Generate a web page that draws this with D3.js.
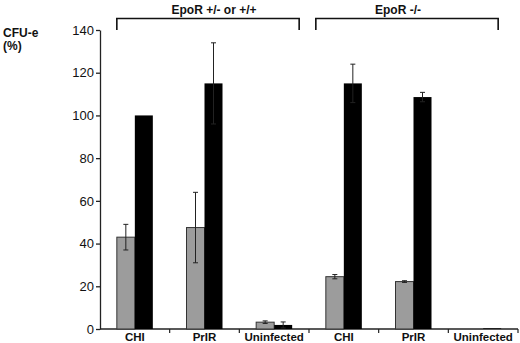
<!DOCTYPE html>
<html>
<head>
<meta charset="utf-8">
<script src="https://cdn.jsdelivr.net/npm/d3@7"></script>
<style>
  body { margin: 0; background: #fff; }
  svg { display: block; font-family: Arial, "Liberation Sans", Helvetica, sans-serif; }
</style>
</head>
<body>
<div id="chart"></div>
<script>
(function () {
  // data
  const categories = ["CHI", "PrIR", "Uninfected", "CHI ", "PrIR ", "Uninfected "];
  const categoryLabels = ["CHI", "PrIR", "Uninfected", "CHI", "PrIR", "Uninfected"];
  const grayValues = [43, 47.5, 3.2, 24.5, 22.2, 0];
  const grayErr = [6, 16.5, 0.6, 1, 0.4, 0];
  const blackValues = [100, 115, 1.9, 115, 108.6, 0.3];
  const blackErr = [0, 19, 1.4, 9, 2.2, 0];
  const yTicks = [0, 20, 40, 60, 80, 100, 120, 140];
  const groups = [
    { label: "EpoR +/- or +/+", from: 0, to: 2 },
    { label: "EpoR -/-", from: 3, to: 5 }
  ];

  const width = 520, height = 343;
  const margin = { top: 30, right: 2, bottom: 14, left: 100 };
  const innerW = width - margin.left - margin.right;
  const innerH = height - margin.top - margin.bottom;

  const svg = d3.select("#chart").append("svg")
    .attr("width", width)
    .attr("height", height);

  const plot = svg.append("g")
    .attr("transform", `translate(${margin.left},${margin.top})`);

  const x = d3.scaleBand()
    .domain(categories)
    .range([0, innerW])
    .paddingInner(0)
    .paddingOuter(0);

  const y = d3.scaleLinear()
    .domain([0, 140])
    .range([innerH, 0]);

  const barW = 18;

  // Y axis
  const yAxis = plot.append("g")
    .call(d3.axisLeft(y).tickValues(yTicks).tickSize(4).tickSizeOuter(0).tickPadding(2));
  yAxis.select(".domain").attr("stroke", "#222").attr("stroke-width", 1.3);
  yAxis.selectAll(".tick line").attr("stroke", "#222").attr("stroke-width", 1.3);
  yAxis.selectAll("text")
    .attr("fill", "#111")
    .style("font-size", "13px");

  // X axis
  const xAxisG = plot.append("g")
    .attr("transform", `translate(0,${innerH})`);
  xAxisG.append("line")
    .attr("x1", 0).attr("x2", innerW)
    .attr("stroke", "#222").attr("stroke-width", 1.3);
  xAxisG.selectAll(".xtick")
    .data(categories)
    .join("line")
    .attr("class", "xtick")
    .attr("x1", d => x(d) + x.bandwidth())
    .attr("x2", d => x(d) + x.bandwidth())
    .attr("y1", 0).attr("y2", 4)
    .attr("stroke", "#222").attr("stroke-width", 1.2);
  xAxisG.selectAll(".xlabel")
    .data(categories)
    .join("text")
    .attr("class", "xlabel")
    .attr("x", d => x(d) + x.bandwidth() / 2)
    .attr("y", 11.5)
    .attr("text-anchor", "middle")
    .style("font-size", "11.5px")
    .style("font-weight", "700")
    .attr("fill", "#111")
    .text((d, i) => categoryLabels[i]);

  // Bars
  const center = d => x(d) + x.bandwidth() / 2;

  plot.selectAll(".gray")
    .data(categories)
    .join("rect")
    .attr("class", "gray")
    .attr("x", d => center(d) - barW)
    .attr("y", (d, i) => y(grayValues[i]))
    .attr("width", barW)
    .attr("height", (d, i) => innerH - y(grayValues[i]))
    .attr("fill", "#9c9c9c")
    .attr("stroke", (d, i) => grayValues[i] > 0 ? "#333" : "none")
    .attr("stroke-width", 1);

  plot.selectAll(".black")
    .data(categories)
    .join("rect")
    .attr("class", "black")
    .attr("x", d => center(d))
    .attr("y", (d, i) => y(blackValues[i]))
    .attr("width", barW)
    .attr("height", (d, i) => innerH - y(blackValues[i]))
    .attr("fill", "#000");

  // Error bars
  function errorBars(cls, values, errs, offset) {
    const data = categories.map((c, i) => ({ c, v: values[i], e: errs[i] }))
      .filter(d => d.e > 0);
    const g = plot.selectAll("." + cls)
      .data(data)
      .join("g")
      .attr("class", cls)
      .attr("stroke", "#222")
      .attr("stroke-width", 1);
    g.append("line")
      .attr("x1", d => center(d.c) + offset).attr("x2", d => center(d.c) + offset)
      .attr("y1", d => y(d.v - d.e)).attr("y2", d => y(d.v + d.e));
    g.append("line")
      .attr("x1", d => center(d.c) + offset - 2.5).attr("x2", d => center(d.c) + offset + 2.5)
      .attr("y1", d => y(d.v + d.e)).attr("y2", d => y(d.v + d.e));
    g.append("line")
      .attr("x1", d => center(d.c) + offset - 2.5).attr("x2", d => center(d.c) + offset + 2.5)
      .attr("y1", d => y(d.v - d.e)).attr("y2", d => y(d.v - d.e));
  }
  errorBars("gerr", grayValues, grayErr, -barW / 2);
  errorBars("berr", blackValues, blackErr, barW / 2);

  // Group brackets (extents nudged to match the figure)
  const bracketPad = [[-barW, barW + 7, 6], [-barW - 10, barW - 3, -9]];
  groups.forEach((gr, gi) => {
    const [padL, padR, labelShift] = bracketPad[gi];
    const x0 = margin.left + center(categories[gr.from]) + padL;
    const x1 = margin.left + center(categories[gr.to]) + padR;
    svg.append("path")
      .attr("d", `M${x0},30V18.5H${x1}V30`)
      .attr("fill", "none")
      .attr("stroke", "#111")
      .attr("stroke-width", 1.6);
    svg.append("text")
      .attr("x", (x0 + x1) / 2 + labelShift)
      .attr("y", 14)
      .attr("text-anchor", "middle")
      .style("font-size", "12px")
      .style("font-weight", "700")
      .attr("fill", "#111")
      .text(gr.label);
  });

  // Y label
  svg.append("text")
    .attr("x", 3).attr("y", 37)
    .style("font-size", "12px").style("font-weight", "700")
    .attr("fill", "#111")
    .text("CFU-e");
  svg.append("text")
    .attr("x", 3).attr("y", 50)
    .style("font-size", "12px").style("font-weight", "700")
    .attr("fill", "#111")
    .text("(%)");
})();
</script>
</body>
</html>
